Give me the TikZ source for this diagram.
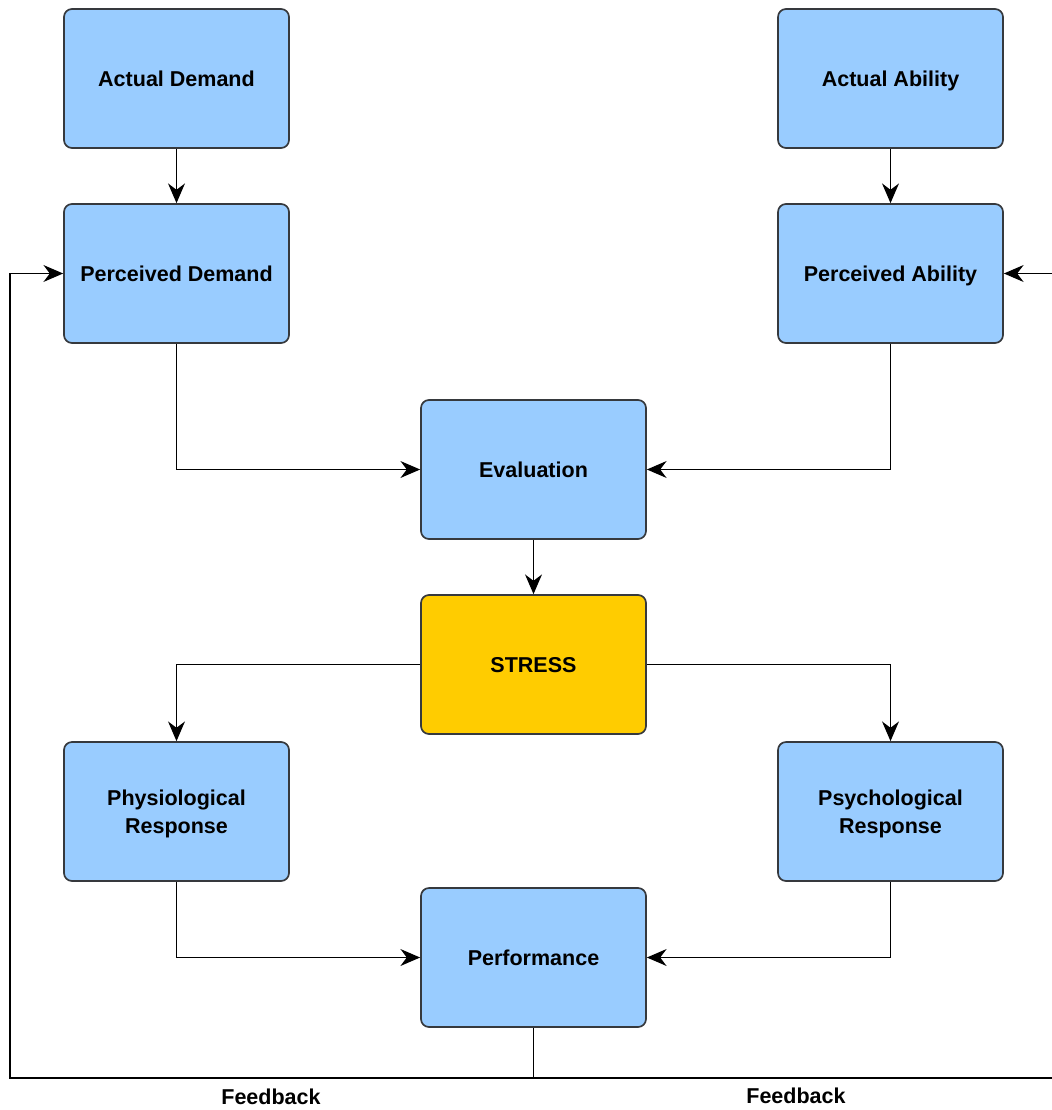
\documentclass[tikz,border=0pt]{standalone}
\usepackage{fontspec}
\setmainfont{Liberation Sans}
\usepackage{xcolor}
\usepackage{tikz}
\usetikzlibrary{arrows.meta}
\definecolor{boxBlue}{HTML}{99CCFF}
\definecolor{boxYellow}{HTML}{FFCC00}
\definecolor{boxLine}{HTML}{36393D}
\newcommand{\colLeft}{4.4125}
\newcommand{\colMid}{13.3375}
\newcommand{\colRight}{22.2625}
\newcommand{\feedbackY}{-26.95}

\begin{document}
\begin{tikzpicture}[
	stageBox/.style={rectangle,rounded corners=0.2cm,draw=boxLine,line width=1.2pt,fill=boxBlue,minimum width=5.625cm,minimum height=3.475cm,align=center,text depth=0pt,font=\bfseries\fontsize{15.3}{20}\selectfont},
	stressBox/.style={stageBox,fill=boxYellow},
	flow/.style={line width=1.3pt,draw=black,-{Stealth[length=14pt,width=12pt,inset=4.5pt]}},
	plainFlow/.style={line width=1.3pt,draw=black},
	fbLabel/.style={font=\bfseries\fontsize{15.3}{18}\selectfont}
]
	\useasboundingbox (0,0) rectangle (26.275,-27.75);

	\node[stageBox] (ADEM) at (\colLeft,-1.9625) {Actual Demand};
	\node[stageBox] (PDEM) at (\colLeft,-6.8375) {Perceived Demand};
	\node[stageBox] (AABI) at (\colRight,-1.9625) {Actual Ability};
	\node[stageBox] (PABI) at (\colRight,-6.8375) {Perceived Ability};
	\node[stageBox] (EVAL) at (\colMid,-11.7375) {Evaluation};
	\node[stressBox] (STRS) at (\colMid,-16.6125) {STRESS};
	\node[stageBox] (PHYS) at (\colLeft,-20.2875) {Physiological\\Response};
	\node[stageBox] (PSYC) at (\colRight,-20.2875) {Psychological\\Response};
	\node[stageBox] (PERF) at (\colMid,-23.9375) {Performance};

	\coordinate (FBM) at (\colMid,\feedbackY);
	\coordinate (FBL) at (0.25,\feedbackY);
	\coordinate (FBR) at (26.5,\feedbackY);

	\draw[flow] (ADEM) -- (PDEM);
	\draw[flow] (AABI) -- (PABI);
	\draw[flow] (PDEM) |- (EVAL);
	\draw[flow] (PABI) |- (EVAL);
	\draw[flow] (EVAL) -- (STRS);
	\draw[flow] (STRS) -| (PHYS);
	\draw[flow] (STRS) -| (PSYC);
	\draw[flow] (PHYS) |- (PERF);
	\draw[flow] (PSYC) |- (PERF);

	\draw[plainFlow] (PERF) -- (FBM);
	\draw[flow] (FBM) -- (FBL) |- (PDEM);
	\draw[flow] (FBM) -- (FBR) |- (PABI);

	\node[fbLabel] (FBTL) at (6.775,-27.43) {Feedback};
	\node[fbLabel] (FBTR) at (19.9,-27.4) {Feedback};
\end{tikzpicture}
\end{document}
